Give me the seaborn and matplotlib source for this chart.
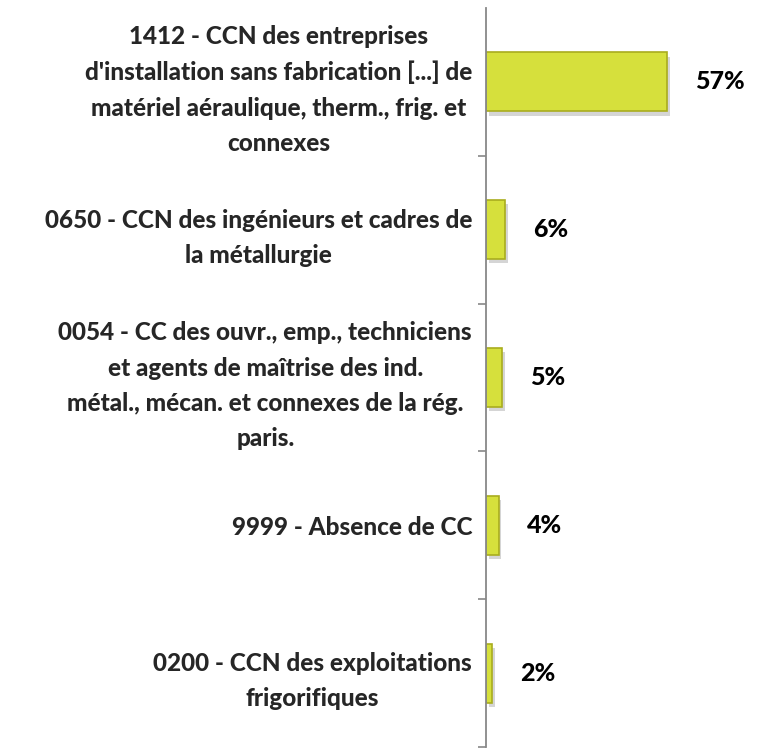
import matplotlib
matplotlib.use("Agg")
import matplotlib.pyplot as plt
import matplotlib.patheffects as pe
import seaborn as sns
import pandas as pd
import numpy as np

categories = [
    "1412 - CCN des entreprises\nd'installation sans fabrication [...] de\nmatériel aéraulique, therm., frig. et\nconnexes",
    "0650 - CCN des ingénieurs et cadres de\nla métallurgie",
    "0054 - CC des ouvr., emp., techniciens\net agents de maîtrise des ind.\nmétal., mécan. et connexes de la rég.\nparis.",
    "9999 - Absence de CC",
    "0200 - CCN des exploitations\nfrigorifiques",
]
values = [57, 6, 5, 4, 2]
value_labels = ["57%", "6%", "5%", "4%", "2%"]

df = pd.DataFrame({"cat": categories, "val": values})

sns.set_theme(style="white")
plt.rcParams["font.family"] = ["Lato", "DejaVu Sans"]

fig = plt.figure(figsize=(7.59, 7.48), dpi=100)
ax = fig.add_axes([486 / 759, 1 - 747 / 748, 273 / 759, (747 - 8) / 748])

sns.barplot(data=df, y="cat", x="val", orient="h", ax=ax, color="#d6e03c",
            width=0.4, edgecolor="#a9ad1e", linewidth=1.2, saturation=1)

for p in ax.patches:
    p.set_path_effects([pe.SimplePatchShadow(offset=(2, -3), shadow_rgbFace="#888888", alpha=0.35),
                        pe.Normal()])

ax.set_xlim(0, 86)
ax.set_ylim(len(categories) - 0.5, -0.5)
ax.set_xlabel("")
ax.set_ylabel("")
ax.set_xticks([])

ax.set_yticks(range(len(categories)))
ax.set_yticklabels(categories, fontsize=17.5, fontweight="black", ha="right",
                   multialignment="center", linespacing=1.65)
ax.tick_params(axis="y", which="major", length=0, pad=10)
ax.set_yticks(np.arange(-0.5, len(categories) - 0.4, 1.0)[1:], minor=True)
ax.tick_params(axis="y", which="minor", length=6, width=1.2, color="#888888", left=True)

for side in ["top", "right", "bottom"]:
    ax.spines[side].set_visible(False)
ax.spines["left"].set_color("#888888")
ax.spines["left"].set_linewidth(1.3)

for i, (v, lab) in enumerate(zip(values, value_labels)):
    ax.annotate(lab, (v, i), xytext=(20, 0), textcoords="offset points",
                ha="left", va="center", fontsize=18, fontweight="black", color="#000000")

fig.savefig("out.png", dpi=100)
